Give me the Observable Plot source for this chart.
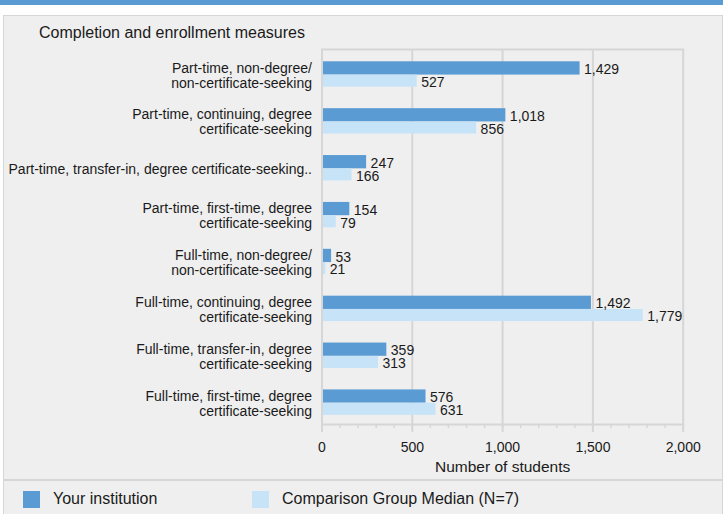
<!DOCTYPE html>
<html>
<head>
<meta charset="utf-8">
<script src="https://cdn.jsdelivr.net/npm/d3@7"></script>
<script src="https://cdn.jsdelivr.net/npm/@observablehq/plot@0.6"></script>
<style>
  html, body { margin: 0; padding: 0; background: #ffffff; }
  body { width: 723px; height: 514px; position: relative; overflow: hidden;
         font-family: "Liberation Sans", Arial, sans-serif; color: #1a1a1a; }
  #band { position: absolute; left: 0; top: 0; width: 723px; height: 5px; background: #5b9bd3; }
  #panel { position: absolute; left: 3px; top: 15px; width: 720px; height: 499px; box-sizing: border-box;
           background: #efefef; border: 1px solid #d6d6d6; border-bottom: none; }
  #sep { position: absolute; left: 3px; top: 479px; width: 720px; height: 2px; background: #d6d6d6; }
  #title { position: absolute; left: 39px; top: 24px; font-size: 16px; line-height: 18px; white-space: nowrap; }
  #chart { position: absolute; left: 0; top: 15px; }
  .legend-item { position: absolute; top: 490px; height: 18px; display: flex; align-items: center;
                 font-size: 16px; white-space: nowrap; }
  .sw { width: 17px; height: 17px; display: inline-block; }
</style>
</head>
<body>
<div id="band"></div>
<div id="panel"></div>
<div id="sep"></div>
<div id="title">Completion and enrollment measures</div>
<div id="chart"></div>
<div id="legend"></div>
<script>
const categories = [
  "Part-time, non-degree/\nnon-certificate-seeking",
  "Part-time, continuing, degree\ncertificate-seeking",
  "Part-time, transfer-in, degree certificate-seeking..",
  "Part-time, first-time, degree\ncertificate-seeking",
  "Full-time, non-degree/\nnon-certificate-seeking",
  "Full-time, continuing, degree\ncertificate-seeking",
  "Full-time, transfer-in, degree\ncertificate-seeking",
  "Full-time, first-time, degree\ncertificate-seeking"
];
const institution = [1429, 1018, 247, 154, 53, 1492, 359, 576];
const comparison = [527, 856, 166, 79, 21, 1779, 313, 631];
const majorTicks = [0, 500, 1000, 1500, 2000];
const gridTicks = [500, 1000, 1500];
const minorTicks = [0, 100, 200, 300, 400, 500, 600, 700, 800, 900, 1000, 1100, 1200, 1300, 1400, 1500, 1600, 1700, 1800, 1900, 2000];
const seriesNames = ["Your institution", "Comparison Group Median (N=7)"];
const seriesColors = ["#5b9bd3", "#c6e3f7"];
const xLabel = "Number of students";

const rows = categories.map((c, i) => ({category: c, institution: institution[i], comparison: comparison[i]}));
const fmt = d3.format(",");
const gridColor = "#d6d6d6";
const textColor = "#1a1a1a";

const chart = Plot.plot({
  width: 723,
  height: 465,
  marginTop: 34,
  marginBottom: 56,
  marginLeft: 321.5,
  marginRight: 40.3,
  style: {background: "transparent", fontFamily: "'Liberation Sans', Arial, sans-serif", fontSize: "14px", color: textColor},
  x: {domain: [0, 2000], label: null},
  y: {domain: categories, padding: 0, round: false, label: null},
  marks: [
    Plot.ruleX(gridTicks, {stroke: gridColor, strokeWidth: 2}),
    Plot.barX(rows, {y: "category", x: "institution", fill: seriesColors[0], insetTop: 12.3, insetBottom: 21.3}),
    Plot.barX(rows, {y: "category", x: "comparison", fill: seriesColors[1], insetTop: 25.6, insetBottom: 9.2}),
    Plot.frame({stroke: gridColor, strokeWidth: 2}),
    Plot.axisX({ticks: minorTicks, tickSize: 4, tickFormat: () => "", stroke: gridColor, strokeWidth: 1.5, label: null}),
    Plot.axisX({ticks: majorTicks, tickSize: 8, tickPadding: 10, tickFormat: fmt, stroke: gridColor, strokeWidth: 2,
                fill: textColor, fontSize: 14, label: null}),
    Plot.axisY({tickSize: 0, tickPadding: 10, label: null, fontSize: 14, fill: textColor, lineHeight: 15 / 14, dy: 2.3}),
    Plot.text(rows, {y: "category", x: "institution", text: d => fmt(d.institution), dx: 4, dy: -3.3,
                     textAnchor: "start", fontSize: 14, fill: textColor}),
    Plot.text(rows, {y: "category", x: "comparison", text: d => fmt(d.comparison), dx: 4, dy: 9.5,
                     textAnchor: "start", fontSize: 14, fill: textColor}),
    Plot.text([xLabel], {text: d => d, frameAnchor: "bottom", lineAnchor: "middle", dy: 43, fontSize: 15.5, fill: textColor})
  ]
});
document.getElementById("chart").appendChild(chart);

const legend = document.getElementById("legend");
const legendX = [23, 252];
seriesNames.forEach((name, i) => {
  const item = document.createElement("div");
  item.className = "legend-item";
  item.style.left = legendX[i] + "px";
  const sw = document.createElement("span");
  sw.className = "sw";
  sw.style.background = seriesColors[i];
  const label = document.createElement("span");
  label.textContent = name;
  label.style.marginLeft = "13px";
  item.appendChild(sw);
  item.appendChild(label);
  legend.appendChild(item);
});
</script>
</body>
</html>
